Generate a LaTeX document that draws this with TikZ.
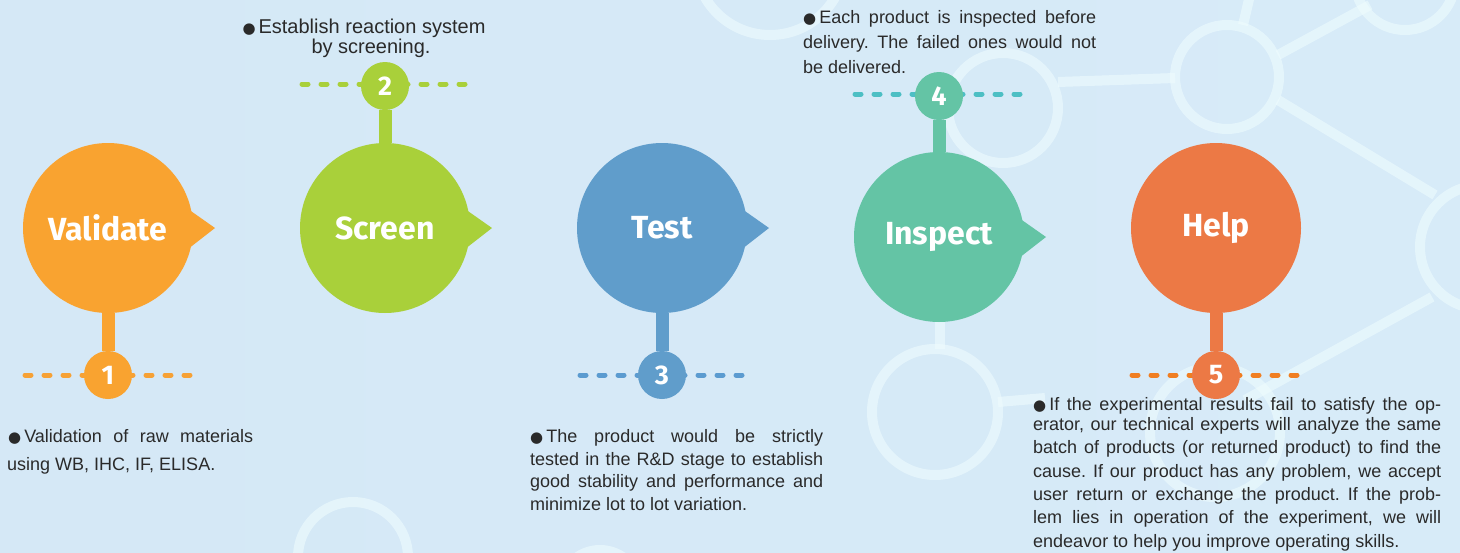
\documentclass[tikz,border=0pt]{standalone}
\usepackage{fontspec}
\setmainfont{Liberation Sans}
\newfontfamily\titlefont{Fira Sans}
\newfontfamily\symfont{DejaVu Sans}
\frenchspacing
\definecolor{cV}{HTML}{F9A330}
\definecolor{cS}{HTML}{A9D03A}
\definecolor{cT}{HTML}{609DCB}
\definecolor{cI}{HTML}{64C4A5}
\definecolor{cH}{HTML}{EC7945}
\definecolor{dV}{HTML}{F6A135}
\definecolor{dS}{HTML}{A9D03A}
\definecolor{dT}{HTML}{5B9BD0}
\definecolor{dI}{HTML}{4DBFC4}
\definecolor{dH}{HTML}{F07E22}
\definecolor{txt}{HTML}{2A2A2A}
\definecolor{bgl}{HTML}{D5E8F6}
\definecolor{bgm}{HTML}{DCEFF9}
\definecolor{bgr}{HTML}{D7EBF8}
\definecolor{netc}{HTML}{EEFCFE}
\newcommand\blt{{\symfont\fontsize{15}{15}\selectfont ●}\hspace{3pt}}
\newcommand\jl[2]{\makebox[#1pt][s]{#2}}
\tikzset{
  bubble/.style={circle, minimum size=170pt, inner sep=0pt, text=white,
    font=\titlefont\bfseries\fontsize{32}{32}\selectfont},
  num/.style={circle, minimum size=48pt, inner sep=0pt, text=white,
    font=\titlefont\bfseries\fontsize{27}{27}\selectfont},
  stem/.style={line width=13pt},
  dots/.style={line width=5pt, line cap=round, dash pattern=on 6pt off 13pt},
  body/.style={anchor=base west, inner sep=0pt, text=txt,
    font=\fontsize{18}{21}\selectfont},
  net/.style={draw=netc, opacity=0.6, line width=10pt},
}
\begin{document}
\begin{tikzpicture}[x=1pt,y=-1pt]
\useasboundingbox (0,0) rectangle (1460,552);
\shade[left color=bgl, middle color=bgm, right color=bgr] (0,0) rectangle (1460,552);
% background network
\begin{scope}
\clip (0,0) rectangle (1460,552);
\draw[net] (770,-40) circle (75);
\draw[net] (1003,108) circle (55);
\draw[net] (1058,82) -- (1175,78);
\draw[net] (1227,77) circle (52);
\draw[net] (1243,25) -- (1250,-5);
\draw[net] (1278,55) -- (1370,5);
\draw[net] (1405,-20) circle (50);
\draw[net] (1278,100) -- (1435,195);
\draw[net] (1482,247) circle (62);
\draw[net] (1432,297) -- (1245,400);
\draw[net] (1215,432) circle (65);
\draw[net] (935,412) circle (63);
\draw[net] (940,349) -- (940,318);
\draw[net] (998,402) -- (1045,398);
\draw[net] (353,557) circle (55);
\draw[net] (600,590) circle (40);
\end{scope}

% big bubbles
\node[bubble, fill=cV] (V) at (108,228) {Validate};
\node[bubble, fill=cS] (S) at (385,228) {Screen};
\node[bubble, fill=cT] (T) at (662,228) {Test};
\node[bubble, fill=cI] (I) at (939,237) {Inspect};
\node[bubble, fill=cH] (H) at (1216,228) {Help};
% pointers
\fill[cV] (V.center) ++(80,-19) -- ++(27,19) -- ++(-27,21) -- cycle;
\fill[cS] (S.center) ++(80,-19) -- ++(27,19) -- ++(-27,21) -- cycle;
\fill[cT] (T.center) ++(80,-19) -- ++(27,19) -- ++(-27,21) -- cycle;
\fill[cI] (I.center) ++(80,-19) -- ++(27,19) -- ++(-27,21) -- cycle;

% dashed guides
\coordinate (d1l) at (25,375);  \coordinate (d1r) at (190,375);
\coordinate (d2l) at (302,84);  \coordinate (d2r) at (465,84);
\coordinate (d3l) at (580,375); \coordinate (d3r) at (742,375);
\coordinate (d4l) at (855,94);  \coordinate (d4r) at (1020,94);
\coordinate (d5l) at (1132,375);\coordinate (d5r) at (1297,375);
\draw[dots, dV] (d1l) -- (108,375);  \draw[dots, dV] (d1r) -- (108,375);
\draw[dots, dS] (d2l) -- (385,84);   \draw[dots, dS] (d2r) -- (385,84);
\draw[dots, dT] (d3l) -- (662,375);  \draw[dots, dT] (d3r) -- (662,375);
\draw[dots, dI] (d4l) -- (939,94);   \draw[dots, dI] (d4r) -- (939,94);
\draw[dots, dH] (d5l) -- (1216,375); \draw[dots, dH] (d5r) -- (1216,375);

% number circles
\node[num, fill=cV] (n1) at (108,375) {1};
\node[num, fill=cS] (n2) at (385,86) {2};
\node[num, fill=cT] (n3) at (662,375) {3};
\node[num, fill=cI] (n4) at (939,96) {4};
\node[num, fill=cH] (n5) at (1216,375) {5};
% stems
\draw[stem, cV] (V.south) -- (n1.north);
\draw[stem, cS] (S.north) -- (n2.south);
\draw[stem, cT] (T.south) -- (n3.north);
\draw[stem, cI] (I.north) -- (n4.south);
\draw[stem, cH] (H.south) -- (n5.north);

% texts
\node[body] (t1a) at (8,442) {\jl{245}{\blt Validation of raw materials}};
\node[body] (t1b) at (7,470) {using WB, IHC, IF, ELISA.};

\node[body, anchor=base, font=\fontsize{20}{22}\selectfont] (t2a) at (364,33) {\jl{243}{\blt Establish reaction system}};
\node[body, anchor=base, font=\fontsize{20}{22}\selectfont] (t2b) at (371,53) {by screening.};

\node[body] (t3a) at (530,442) {\jl{293}{\blt The product would be strictly}};
\node[body] (t3b) at (530,465) {\jl{293}{tested in the R\&D stage to establish}};
\node[body] (t3c) at (530,487) {\jl{293}{good stability and performance and}};
\node[body] (t3d) at (530,510) {minimize lot to lot variation.};

\node[body] (t4a) at (803,23) {\jl{293}{\blt Each product is inspected before}};
\node[body] (t4b) at (803,48) {\jl{293}{delivery. The failed ones would not}};
\node[body] (t4c) at (803,73) {be delivered.};

\node[body] (t5a) at (1033,410) {\jl{408}{\blt If the experimental results fail to satisfy the op-}};
\node[body] (t5b) at (1033,430) {\jl{408}{erator, our technical experts will analyze the same}};
\node[body] (t5c) at (1033,453) {\jl{408}{batch of products (or returned product) to find the}};
\node[body] (t5d) at (1033,477) {\jl{408}{cause. If our product has any problem, we accept}};
\node[body] (t5e) at (1033,500) {\jl{408}{user return or exchange the product. If the prob-}};
\node[body] (t5f) at (1033,523) {\jl{408}{lem lies in operation of the experiment, we will}};
\node[body] (t5g) at (1033,547) {endeavor to help you improve operating skills.};
\end{tikzpicture}
\end{document}
